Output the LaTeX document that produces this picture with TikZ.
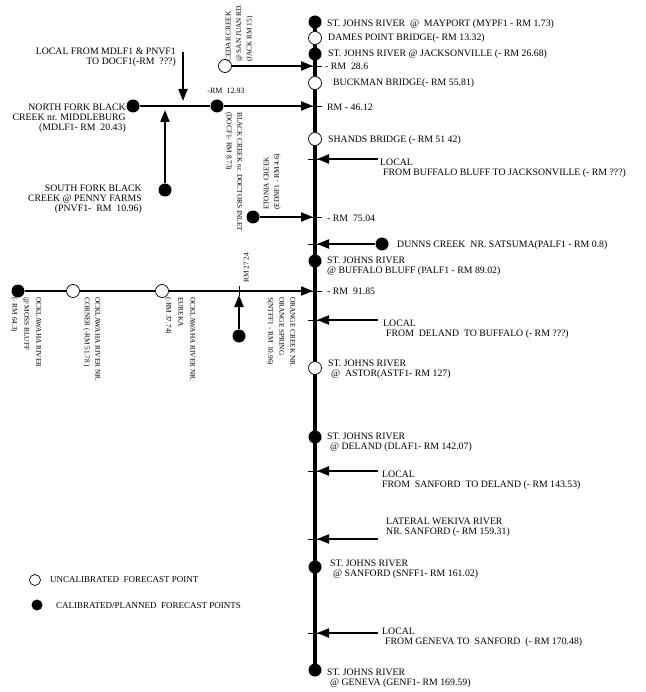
\documentclass[tikz,border=0pt]{standalone}
\usepackage{fontspec}
\setmainfont{Liberation Serif}
\usetikzlibrary{arrows.meta}
\usetikzlibrary{backgrounds}
\usetikzlibrary{positioning}
\tikzset{>={Triangle[length=12pt,width=9pt]}}
\tikzset{
	cal/.style={circle,fill=black,inner sep=0pt,minimum size=13pt},
	uncal/.style={circle,draw=black,fill=white,line width=0.7pt,inner sep=0pt,minimum size=13pt},
	lbl/.style={font=\fontsize{9.8}{10}\selectfont,inner sep=0pt,align=left,anchor=west},
	vlbl/.style={font=\fontsize{7.3}{10.5}\selectfont,inner sep=0pt,align=left,anchor=north west},
	river/.style={line width=3.2pt},
	branch/.style={line width=2pt},
	junc/.style={line width=0.6pt}
}

\begin{document}
\begin{tikzpicture}[x=1pt,y=-1pt]
	\useasboundingbox (0,0) rectangle (645,692);

	\node[cal] (mypf) at (315,22) {};
	\node[uncal] (dames) at (315,38) {};
	\node[cal] (jax) at (315,54) {};
	\coordinate (j286) at (315,66);
	\node[uncal] (buckman) at (315,83) {};
	\coordinate (j4612) at (315,106);
	\node[uncal] (shands) at (315,139) {};
	\coordinate (jloc1) at (315,159);
	\coordinate (j7504) at (315,217);
	\coordinate (jdunns) at (315,244);
	\node[cal] (palf) at (315,261) {};
	\coordinate (j9185) at (315,291);
	\coordinate (jloc2) at (315,320);
	\node[uncal] (astf) at (315,368) {};
	\node[cal] (dlaf) at (315,437) {};
	\coordinate (jloc3) at (315,471);
	\coordinate (jwek) at (315,539);
	\node[cal] (snff) at (315,567) {};
	\coordinate (jloc4) at (315,633);
	\node[cal] (genf) at (315,670) {};

	\node[lbl] at (327,24) {ST. JOHNS RIVER \ @ \ MAYPORT (MYPF1 - RM 1.73)};
	\node[lbl] at (328,38) {DAMES POINT BRIDGE(- RM 13.32)};
	\node[lbl] at (328,54) {ST. JOHNS RIVER @ JACKSONVILLE (- RM 26.68)};
	\node[lbl] at (325,66) {- RM \ 28.6};
	\node[lbl] at (333,83) {BUCKMAN BRIDGE(- RM 55.81)};
	\node[lbl] at (327,107) {RM - 46.12};
	\node[lbl] at (328,140) {SHANDS BRIDGE (- RM 51 42)};
	\node[lbl] at (380,168.5) {LOCAL\\\hspace{3pt}FROM BUFFALO BLUFF TO JACKSONVILLE (- RM ???)};
	\node[lbl] at (327,218) {- RM \ 75.04};
	\node[lbl] at (397,245) {DUNNS CREEK \ NR. SATSUMA(PALF1 - RM 0.8)};
	\node[lbl] at (327,266) {ST. JOHNS RIVER\\@ BUFFALO BLUFF (PALF1 - RM 89.02)};
	\node[lbl] at (327,291) {- RM \ 91.85};
	\node[lbl] at (383,329.5) {LOCAL\\\hspace{3pt}FROM \ DELAND \ TO BUFFALO (- RM ???)};
	\node[lbl] at (328,369) {ST. JOHNS RIVER\\\hspace{3pt}@ \ ASTOR(ASTF1- RM 127)};
	\node[lbl] at (327,442) {ST. JOHNS RIVER\\\hspace{3pt}@ DELAND (DLAF1- RM 142.07)};
	\node[lbl] at (382,480.5) {LOCAL\\FROM \ SANFORD \ TO DELAND (- RM 143.53)};
	\node[lbl] at (386,527.5) {LATERAL WEKIVA RIVER\\NR. SANFORD (- RM 159.31)};
	\node[lbl] at (330,569.5) {ST. JOHNS RIVER\\\hspace{3pt}@ SANFORD (SNFF1- RM 161.02)};
	\node[lbl] at (382,637.5) {LOCAL\\\hspace{3pt}FROM GENEVA TO \ SANFORD \ (- RM 170.48)};
	\node[lbl] at (327,678) {ST. JOHNS RIVER\\\hspace{3pt}@ GENEVA (GENF1- RM 169.59)};

	\node[uncal] (cedar) at (225,66) {};
	\node[vlbl,rotate=90] at (225.5,62) {CEDAR CREEK\\@ SAN JUAN RD.\\(JACK RM 15)};

	\node[cal] (mdlf) at (133,106) {};
	\node[cal] (docf) at (217,106) {};
	\node[cal] (pnvf) at (165,190) {};
	\coordinate (bkloc) at (183,52);
	\coordinate (bkj1) at (183,106);
	\coordinate (bkj2) at (165,106);
	\node[lbl,anchor=east,align=right] at (176,57) {LOCAL FROM MDLF1 \& PNVF1\\TO DOCF1(-RM \ ???)};
	\node[lbl,anchor=east,align=right] at (126,118) {NORTH FORK BLACK\\CREEK nr. MIDDLEBURG\\(MDLF1- RM \ 20.43)};
	\node[lbl,anchor=east,align=right] at (142,199) {SOUTH FORK BLACK\\CREEK @ PENNY FARMS\\(PNVF1- \ RM \ 10.96)};
	\node[lbl,anchor=center,font=\fontsize{8}{10}\selectfont] at (226,91) {-RM \ 12.93};
	\node[vlbl,rotate=-90] at (242.5,112) {BLACK CREEK nr. DOCTORS INLET\\(DOCF1- RM 8.73)};

	\node[cal] (ednf) at (253,217) {};
	\node[vlbl,rotate=90] at (263.5,210) {ETONIA CREEK\\(EDNF1 - RM 4.6)};

	\node[cal] (dunns) at (382,244) {};
	\coordinate (loc1) at (378,159);
	\coordinate (loc2) at (378,320);
	\coordinate (loc3) at (378,471);
	\coordinate (wek) at (378,539);
	\coordinate (loc4) at (378,633);

	\node[cal] (moss) at (18,291) {};
	\node[uncal] (corner) at (73,291) {};
	\node[uncal] (eureka) at (162,291) {};
	\coordinate (jorange) at (239,291);
	\node[cal] (orange) at (239,336) {};
	\node[vlbl,rotate=-90,font=\fontsize{7.3}{12}\selectfont] at (41.5,297) {OCKLAWAHA RIVER\\@ MOSS BLUFF\\(- RM 64.3)};
	\node[vlbl,rotate=-90] at (100.5,297) {OCKLAWAHA RIVER NR.\\CORNER (-RM 51.78 )};
	\node[vlbl,rotate=-90,font=\fontsize{7.3}{12}\selectfont] at (195.5,297) {OCKLAWAHA RIVER NR.\\EUREKA\\(-RM 37.74)};
	\node[vlbl,rotate=-90,font=\fontsize{7.3}{11}\selectfont] at (295.5,297) {ORANGE CREEK NR.\\ORANGE SPRING\\S(NTFF1 - RM \ 10.96)};
	\node[vlbl,rotate=90] at (243.5,283) {RM 27 24};

	\node[uncal,minimum size=11pt] (legu) at (35,580) {};
	\node[lbl,font=\fontsize{9}{10}\selectfont] at (50,580) {UNCALIBRATED \ FORECAST POINT};
	\node[cal,minimum size=11pt] (legc) at (37,605) {};
	\node[lbl,font=\fontsize{9}{10}\selectfont] at (56,606) {CALIBRATED/PLANNED \ FORECAST POINTS};

	\begin{scope}[on background layer]
		\draw[river] (mypf.center) -- (genf.center);
		\foreach \j in {j286,j4612,jloc1,j7504,jdunns,j9185,jloc2,jloc3,jwek,jloc4}
			\draw[junc] ([xshift=-7pt]\j) -- ([xshift=7pt]\j);
		\draw[junc] ([yshift=-5pt]jorange) -- ([yshift=5pt]jorange);
		\draw[branch,->,shorten >=2pt] (cedar) -- (j286);
		\draw[branch] (mdlf) -- (docf);
		\draw[branch,->,shorten >=2pt] (docf) -- (j4612);
		\draw[branch,->,shorten >=5pt] (bkloc) -- (bkj1);
		\draw[branch,->,shorten >=4pt] (pnvf) -- (bkj2);
		\draw[branch,->,shorten >=2pt] (ednf) -- (j7504);
		\draw[branch,->,shorten >=2pt] (dunns) -- (jdunns);
		\draw[branch,->,shorten >=2pt] (moss) -- (corner) -- (eureka) -- (j9185);
		\draw[branch,->,shorten >=4pt] (orange) -- (jorange);
		\foreach \s/\t in {loc1/jloc1,loc2/jloc2,loc3/jloc3,wek/jwek,loc4/jloc4}
			\draw[branch,->,shorten >=2pt] (\s) -- (\t);
	\end{scope}
\end{tikzpicture}
\end{document}
